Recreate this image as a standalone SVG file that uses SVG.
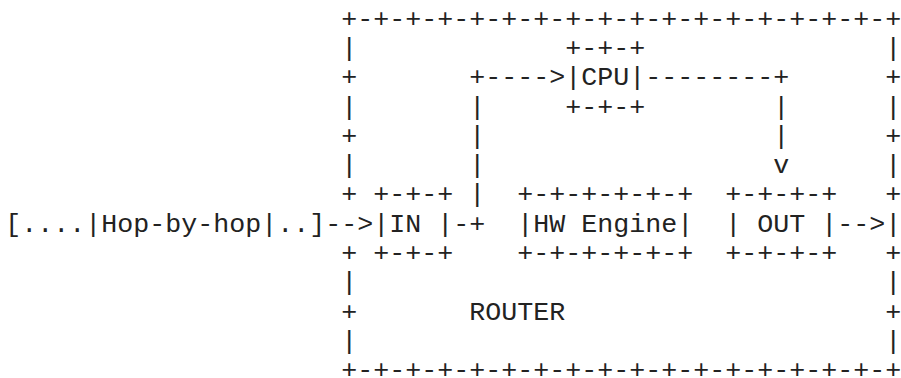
<svg xmlns="http://www.w3.org/2000/svg" width="901" height="378" viewBox="0 0 901 378">
<style>
text{font-family:"Liberation Mono","Courier New",monospace;font-size:26.667px;fill:#222;white-space:pre}
</style>
<rect width="901" height="378" fill="#fff"/>
<g id="router">
<text x="341.33" y="26.6">+-+-+-+-+-+-+-+-+-+-+-+-+-+-+-+-+-+-+</text>
<text x="341.33" y="378.2">+-+-+-+-+-+-+-+-+-+-+-+-+-+-+-+-+-+-+</text>
<text x="341.33"><tspan x="341.33" y="55.9">|</tspan><tspan x="341.33" y="85.2">+</tspan><tspan x="341.33" y="114.5">|</tspan><tspan x="341.33" y="143.8">+</tspan><tspan x="341.33" y="173.1">|</tspan><tspan x="341.33" y="202.4">+</tspan><tspan x="341.33" y="261">+</tspan><tspan x="341.33" y="290.3">|</tspan><tspan x="341.33" y="319.6">+</tspan><tspan x="341.33" y="348.9">|</tspan></text>
<text x="885.33"><tspan x="885.33" y="55.9">|</tspan><tspan x="885.33" y="85.2">+</tspan><tspan x="885.33" y="114.5">|</tspan><tspan x="885.33" y="143.8">+</tspan><tspan x="885.33" y="173.1">|</tspan><tspan x="885.33" y="202.4">+</tspan><tspan x="885.33" y="231.7">|</tspan><tspan x="885.33" y="261">+</tspan><tspan x="885.33" y="290.3">|</tspan><tspan x="885.33" y="319.6">+</tspan><tspan x="885.33" y="348.9">|</tspan></text>
<text x="469.33" y="319.6">ROUTER</text>
</g>
<g id="cpu">
<text x="565.33" y="55.9">+-+-+</text>
<text x="565.33" y="85.2">|CPU|</text>
<text x="565.33" y="114.5">+-+-+</text>
</g>
<g id="in">
<text x="373.33" y="202.4">+-+-+</text>
<text x="373.33" y="231.7">|IN |</text>
<text x="373.33" y="261">+-+-+</text>
</g>
<g id="hw-engine">
<text x="517.33" y="202.4">+-+-+-+-+-+</text>
<text x="517.33" y="231.7">|HW Engine|</text>
<text x="517.33" y="261">+-+-+-+-+-+</text>
</g>
<g id="out">
<text x="725.33" y="202.4">+-+-+-+</text>
<text x="725.33" y="231.7">| OUT |</text>
<text x="725.33" y="261">+-+-+-+</text>
</g>
<g id="packet">
<text x="5.33" y="231.7">[....|Hop-by-hop|..]</text>
</g>
<g id="connectors">
<text x="325.33" y="231.7">--&gt;</text>
<text x="453.33" y="231.7">-+</text>
<text x="469.33"><tspan x="469.33" y="114.5">|</tspan><tspan x="469.33" y="143.8">|</tspan><tspan x="469.33" y="173.1">|</tspan><tspan x="469.33" y="202.4">|</tspan></text>
<text x="469.33" y="85.2">+----&gt;</text>
<text x="645.33" y="85.2">--------+</text>
<text x="773.33"><tspan x="773.33" y="114.5">|</tspan><tspan x="773.33" y="143.8">|</tspan><tspan x="773.33" y="173.1">v</tspan></text>
<text x="837.33" y="231.7">--&gt;</text>
</g>
</svg>
